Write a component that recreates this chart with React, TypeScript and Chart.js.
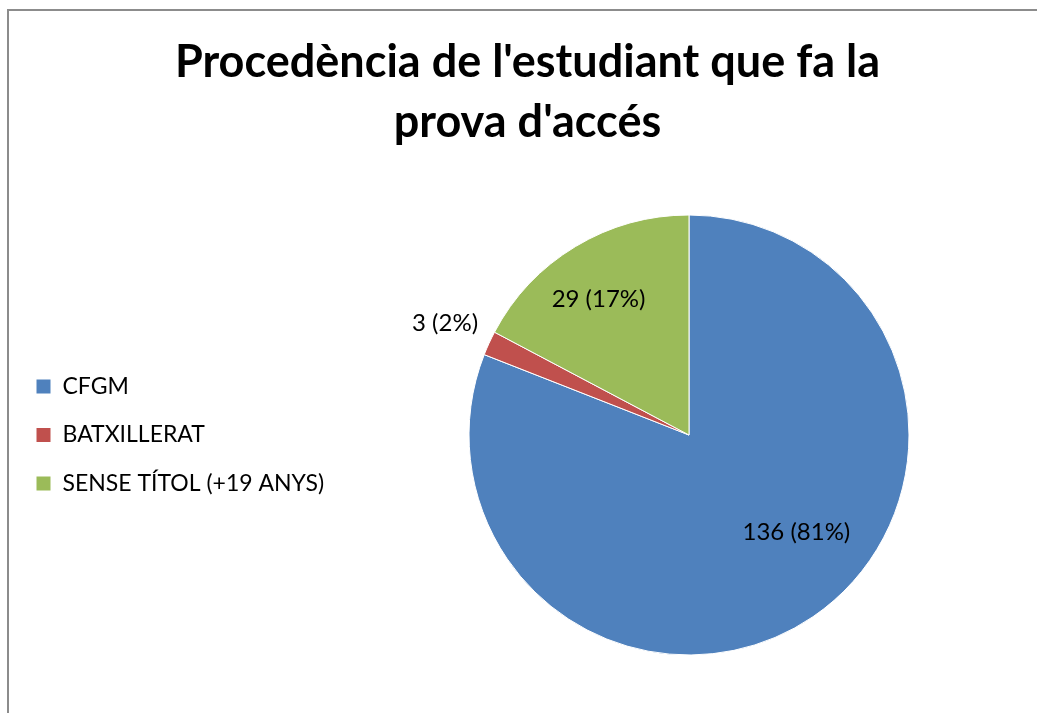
import React, { useEffect, useRef } from "react";
import { Chart, registerables } from "chart.js";

Chart.register(...registerables);

const titleLines = ["Procedència de l'estudiant que fa la", "prova d'accés"];
const categories = ["CFGM", "BATXILLERAT", "SENSE TÍTOL (+19 ANYS)"];
const counts = [136, 3, 29];
const percentLabels = ["81%", "2%", "17%"];
const sliceColors = ["#4F81BD", "#C0504D", "#9BBB59"];

// label placement: t = fraction along slice angle, r = fraction of radius
const labelPlacement = [
  { t: 0.454, r: 0.66 },
  { t: 0.5, r: 1.22 },
  { t: 0.457, r: 0.74 },
];

const dataLabelPlugin = {
  id: "dataLabels",
  afterDatasetsDraw(chart: any) {
    const ctx = chart.ctx;
    const meta = chart.getDatasetMeta(0);
    ctx.save();
    ctx.font = "24px Lato";
    ctx.fillStyle = "#000";
    ctx.textAlign = "center";
    ctx.textBaseline = "middle";
    meta.data.forEach((arc: any, i: number) => {
      const { x, y, startAngle, endAngle, outerRadius } = arc.getProps(
        ["x", "y", "startAngle", "endAngle", "outerRadius"],
        true
      );
      const p = labelPlacement[i];
      const a = startAngle + (endAngle - startAngle) * p.t;
      const r = outerRadius * p.r;
      ctx.fillText(
        `${counts[i]} (${percentLabels[i]})`,
        x + Math.cos(a) * r,
        y + Math.sin(a) * r
      );
    });
    ctx.restore();
  },
};

export default function App() {
  const canvasRef = useRef<HTMLCanvasElement | null>(null);

  useEffect(() => {
    if (!canvasRef.current) return;
    Chart.defaults.font.family = "Lato";
    const chart = new Chart(canvasRef.current, {
      type: "pie",
      data: {
        labels: categories,
        datasets: [
          {
            data: counts,
            backgroundColor: sliceColors,
            borderColor: "#ffffff",
            borderWidth: 1,
            radius: 220,
          },
        ],
      },
      options: {
        responsive: false,
        animation: false,
        events: [],
        layout: { padding: { left: 1.5, right: 1.5, top: 0, bottom: 58 } },
        plugins: {
          title: {
            display: true,
            text: titleLines,
            color: "#000",
            font: { family: "Lato", size: 45, weight: "bold", lineHeight: 60 / 45 },
            padding: { top: 32, bottom: 63 },
          },
          legend: {
            position: "left",
            fullSize: false,
            maxWidth: 323,
            labels: {
              color: "#000",
              font: { family: "Lato", size: 23 },
              boxWidth: 15,
              boxHeight: 15,
              padding: 25.5,
            },
          },
          tooltip: { enabled: false },
        },
      },
      plugins: [dataLabelPlugin],
    });
    return () => chart.destroy();
  }, []);

  return (
    <div
      style={{
        position: "fixed",
        left: 0,
        top: 0,
        width: 1037,
        height: 713,
        overflow: "hidden",
        background: "#fff",
      }}
    >
      <div
        style={{
          position: "absolute",
          left: 7,
          top: 9,
          width: 1100,
          height: 800,
          border: "2px solid #8c8c8c",
        }}
      />
      <canvas
        ref={canvasRef}
        width={1037}
        height={713}
        style={{ position: "absolute", left: 9, top: 0 }}
      />
    </div>
  );
}
